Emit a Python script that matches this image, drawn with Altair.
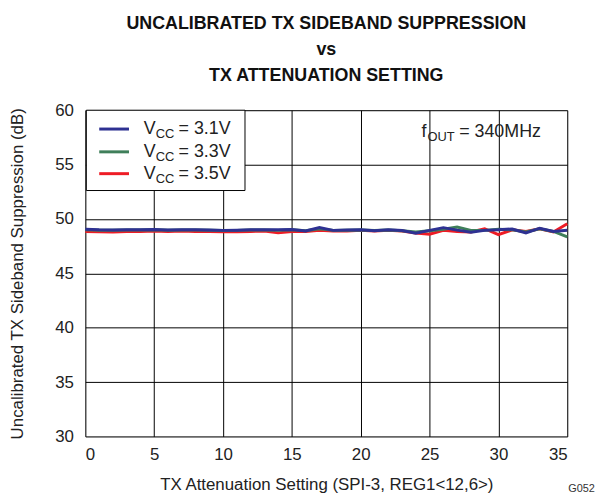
import altair as alt
import pandas as pd

x_vals = list(range(0, 36))
vcc31 = [49.05, 49.0, 48.98, 49.0, 49.0, 49.02, 48.98, 49.0, 49.0, 48.98, 48.95, 48.97,
         49.0, 49.0, 49.0, 49.02, 48.9, 49.2, 48.95, 48.98, 49.0, 48.92, 49.0, 48.93,
         48.68, 48.95, 49.2, 48.97, 48.78, 48.95, 49.0, 49.08, 48.72, 49.15, 48.85, 48.96]
vcc33 = [49.0, 48.97, 48.97, 48.98, 48.98, 49.0, 48.96, 48.98, 48.98, 48.96, 48.93, 48.95,
         48.98, 48.98, 48.95, 49.0, 48.92, 49.1, 48.95, 48.97, 48.98, 48.93, 48.98, 48.92,
         48.8, 48.92, 49.05, 49.25, 48.95, 48.95, 49.05, 49.0, 48.8, 49.1, 48.85, 48.35]
vcc35 = [48.85, 48.82, 48.8, 48.85, 48.85, 48.88, 48.85, 48.88, 48.85, 48.85, 48.82, 48.83,
         48.85, 48.88, 48.72, 48.85, 48.85, 48.95, 48.88, 48.9, 48.95, 48.88, 48.95, 48.9,
         48.7, 48.6, 48.95, 48.85, 48.8, 49.1, 48.55, 49.0, 48.85, 49.1, 48.8, 49.55]

series_names = ["3.1V", "3.3V", "3.5V"]
series_colors = ["#2E3192", "#3F7F5A", "#EE1C25"]
x_ticks = [0, 5, 10, 15, 20, 25, 30, 35]
y_ticks = [30, 35, 40, 45, 50, 55, 60]

FONT = "Liberation Sans"

frames = []
for name, vals in zip(series_names, [vcc31, vcc33, vcc35]):
    frames.append(pd.DataFrame({"setting": x_vals, "supp": vals, "vcc": name}))
df = pd.concat(frames, ignore_index=True)

xenc = alt.X("setting:Q", scale=alt.Scale(domain=[0, 35], nice=False),
             axis=alt.Axis(values=x_ticks, title="TX Attenuation Setting (SPI-3, REG1<12,6>)",
                           grid=True, gridColor="black", gridWidth=1, gridOpacity=1,
                           ticks=False, domain=False, labelFontSize=17, labelPadding=10,
                           labelColor="#222", titleFontSize=17, titleFontWeight="normal",
                           titlePadding=15, titleColor="#222", labelFont=FONT, titleFont=FONT))
yenc = alt.Y("supp:Q", scale=alt.Scale(domain=[30, 60], nice=False),
             axis=alt.Axis(values=y_ticks, title="Uncalibrated TX Sideband Suppression (dB)",
                           grid=True, gridColor="black", gridWidth=1, gridOpacity=1,
                           ticks=False, domain=False, labelFontSize=17, labelPadding=12,
                           labelColor="#222", titleFontSize=17, titleFontWeight="normal",
                           titlePadding=28, titleColor="#222", labelFont=FONT, titleFont=FONT))

layers = []
for name, color in reversed(list(zip(series_names, series_colors))):
    layers.append(
        alt.Chart(df).transform_filter(alt.datum.vcc == name)
        .mark_line(color=color, strokeWidth=3)
        .encode(x=xenc, y=yenc)
    )

one = pd.DataFrame({"a": [0]})

# legend box
layers.append(alt.Chart(one).mark_rect(fill="white", stroke="black", strokeWidth=1)
              .encode(x=alt.value(1), x2=alt.value(161), y=alt.value(0), y2=alt.value(81)))

leg_rows = [19, 42, 64]
for name, color, yy in zip(series_names, series_colors, leg_rows):
    layers.append(alt.Chart(one).mark_rule(color=color, strokeWidth=3)
                  .encode(x=alt.value(14), x2=alt.value(44), y=alt.value(yy)))
    layers.append(alt.Chart(one).mark_text(
        text="V", font=FONT, fontSize=18, align="left", baseline="middle", color="#222")
        .encode(x=alt.value(59), y=alt.value(yy)))
    layers.append(alt.Chart(one).mark_text(
        text="CC", font=FONT, fontSize=13, align="left", baseline="middle", color="#222")
        .encode(x=alt.value(71), y=alt.value(yy + 5)))
    layers.append(alt.Chart(one).mark_text(
        text="= " + name, font=FONT, fontSize=18, align="left", baseline="middle", color="#222")
        .encode(x=alt.value(94), y=alt.value(yy)))

# annotation f_OUT = 340MHz
ann_y = 22
layers.append(alt.Chart(one).mark_text(
    text="f", font=FONT, fontSize=18, align="left", baseline="middle", color="#222")
    .encode(x=alt.value(339), y=alt.value(ann_y)))
layers.append(alt.Chart(one).mark_text(
    text="OUT", font=FONT, fontSize=13, align="left", baseline="middle", color="#222")
    .encode(x=alt.value(345), y=alt.value(ann_y + 5)))
layers.append(alt.Chart(one).mark_text(
    text="= 340MHz", font=FONT, fontSize=18, align="left", baseline="middle", color="#222")
    .encode(x=alt.value(377), y=alt.value(ann_y)))

# figure code
layers.append(alt.Chart(one).mark_text(
    text="G052", font=FONT, fontSize=11, align="left", baseline="bottom", color="#333")
    .encode(x=alt.value(487), y=alt.value(387)))

chart = alt.layer(*layers).properties(
    width=486, height=329,
    title=alt.TitleParams(
        text=["UNCALIBRATED TX SIDEBAND SUPPRESSION", "vs", "TX ATTENUATION SETTING"],
        font=FONT, fontSize=18, fontWeight="bold", color="#111", anchor="middle",
        lineHeight=26.5, offset=16),
    autosize=alt.AutoSizeParams(type="none"),
    padding={"left": 78, "top": 101, "right": 30, "bottom": 58},
).configure_view(stroke="#222", strokeWidth=2).configure(background="white")

chart.save("out.html", embed_options={"renderer": "svg", "actions": False})
